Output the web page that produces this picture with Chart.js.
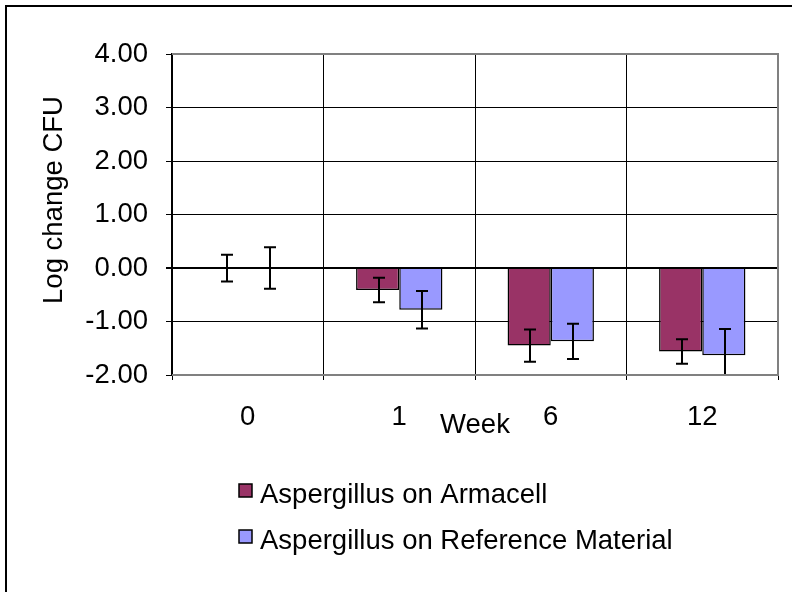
<!DOCTYPE html>
<html>
<head>
<meta charset="utf-8">
<script src="https://cdn.jsdelivr.net/npm/chart.js@4.4.1/dist/chart.umd.min.js"></script>
<style>
  body { margin: 0; background: #fff; }
  #contenedor { width: 792px; height: 592px; }
</style>
</head>
<body>
<div id="contenedor"><canvas id="grafico" width="792" height="592"></canvas></div>
<script>
// datos
const semanas = ["0", "1", "6", "12"];
const armacell = [0, -0.41, -1.45, -1.56];
const errorArmacell = [0.25, 0.23, 0.30, 0.23];
const referencia = [0, -0.78, -1.37, -1.63];
const errorReferencia = [0.39, 0.35, 0.33, 0.49];
const nombres = ["Aspergillus on Armacell", "Aspergillus on Reference Material"];
const colores = ["#993366", "#9999ff"];
const errores = [errorArmacell, errorReferencia];

const familia = '"Liberation Sans", Arial, sans-serif';
const tam = 27.5;
const fuente = tam + "px " + familia;

// barras de error (no vienen con Chart.js)
const barrasError = {
  id: "barrasError",
  afterDatasetsDraw(chart) {
    const { ctx, chartArea: a } = chart;
    const y = chart.scales.y;
    ctx.save();
    ctx.beginPath();
    ctx.rect(a.left, a.top, a.right - a.left, a.bottom - a.top + 1);
    ctx.clip();
    ctx.strokeStyle = "#000";
    ctx.lineWidth = 2;
    chart.data.datasets.forEach((ds, i) => {
      const meta = chart.getDatasetMeta(i);
      meta.data.forEach((barra, j) => {
        const v = ds.data[j];
        const e = errores[i][j];
        const x = Math.round(barra.x) + 1;
        const arriba = y.getPixelForValue(v + e);
        const abajo = y.getPixelForValue(v - e);
        ctx.beginPath();
        ctx.moveTo(x, arriba); ctx.lineTo(x, abajo);
        ctx.moveTo(x - 6, arriba); ctx.lineTo(x + 6, arriba);
        ctx.moveTo(x - 6, abajo); ctx.lineTo(x + 6, abajo);
        ctx.stroke();
      });
    });
    ctx.restore();
  }
};

// marco, borde del area, titulo vertical y leyenda
const marco = {
  id: "marco",
  afterDraw(chart) {
    const { ctx, chartArea: a } = chart;
    ctx.save();
    ctx.strokeStyle = "#808080";
    ctx.lineWidth = 2;
    ctx.beginPath();
    ctx.moveTo(a.left, a.top); ctx.lineTo(a.right, a.top);
    ctx.lineTo(a.right, a.bottom); ctx.lineTo(a.left, a.bottom);
    ctx.stroke();

    ctx.strokeStyle = "#000";
    ctx.beginPath();
    ctx.moveTo(6, 592); ctx.lineTo(6, 6); ctx.lineTo(792, 6);
    ctx.stroke();

    ctx.fillStyle = "#000";
    ctx.font = fuente;
    ctx.translate(54, 200);
    ctx.rotate(-Math.PI / 2);
    ctx.textAlign = "center";
    ctx.textBaseline = "middle";
    ctx.fillText("Log change CFU", 0, 0);
    ctx.setTransform(1, 0, 0, 1, 0, 0);

    ctx.textAlign = "left";
    ctx.textBaseline = "alphabetic";
    ctx.lineWidth = 1.5;
    nombres.forEach((n, i) => {
      const top = 484 + i * 46;
      ctx.fillStyle = colores[i];
      ctx.fillRect(239, top, 13, 13);
      ctx.strokeRect(239, top, 13, 13);
      ctx.fillStyle = "#000";
      ctx.fillText(n, 260, top + 19);
    });
    ctx.restore();
  }
};

new Chart(document.getElementById("grafico"), {
  type: "bar",
  data: {
    labels: semanas,
    datasets: [
      { label: nombres[0], data: armacell, backgroundColor: colores[0], borderColor: "#000", borderWidth: 1.5, barPercentage: 1, categoryPercentage: 0.57 },
      { label: nombres[1], data: referencia, backgroundColor: colores[1], borderColor: "#000", borderWidth: 1.5, barPercentage: 1, categoryPercentage: 0.57 }
    ]
  },
  options: {
    responsive: false,
    animation: false,
    layout: { padding: { top: 54, right: 14, left: 0, bottom: 0 } },
    plugins: { legend: { display: false }, tooltip: { enabled: false } },
    scales: {
      x: {
        grid: { color: "#000", lineWidth: 1, offset: true, tickLength: 5, tickColor: "#000" },
        border: { display: false },
        ticks: { color: "#000", font: { family: familia, size: tam }, padding: 21, maxRotation: 0 },
        title: { display: true, text: "Week", color: "#000", font: { family: familia, size: tam }, padding: { top: 0, bottom: 150 } },
        afterFit(scale) { scale.height = 217; }
      },
      y: {
        min: -2, max: 4,
        ticks: { stepSize: 1, color: "#000", font: { family: familia, size: tam }, padding: 18, callback: v => v.toFixed(2) },
        grid: { color: "#000", lineWidth: c => (c.tick && c.tick.value === 0 ? 2 : 1), tickLength: 6, tickColor: "#000" },
        border: { display: true, color: "#000", width: 1.5 },
        afterFit(scale) { scale.width = 172; }
      }
    }
  },
  plugins: [barrasError, marco]
});
</script>
</body>
</html>
